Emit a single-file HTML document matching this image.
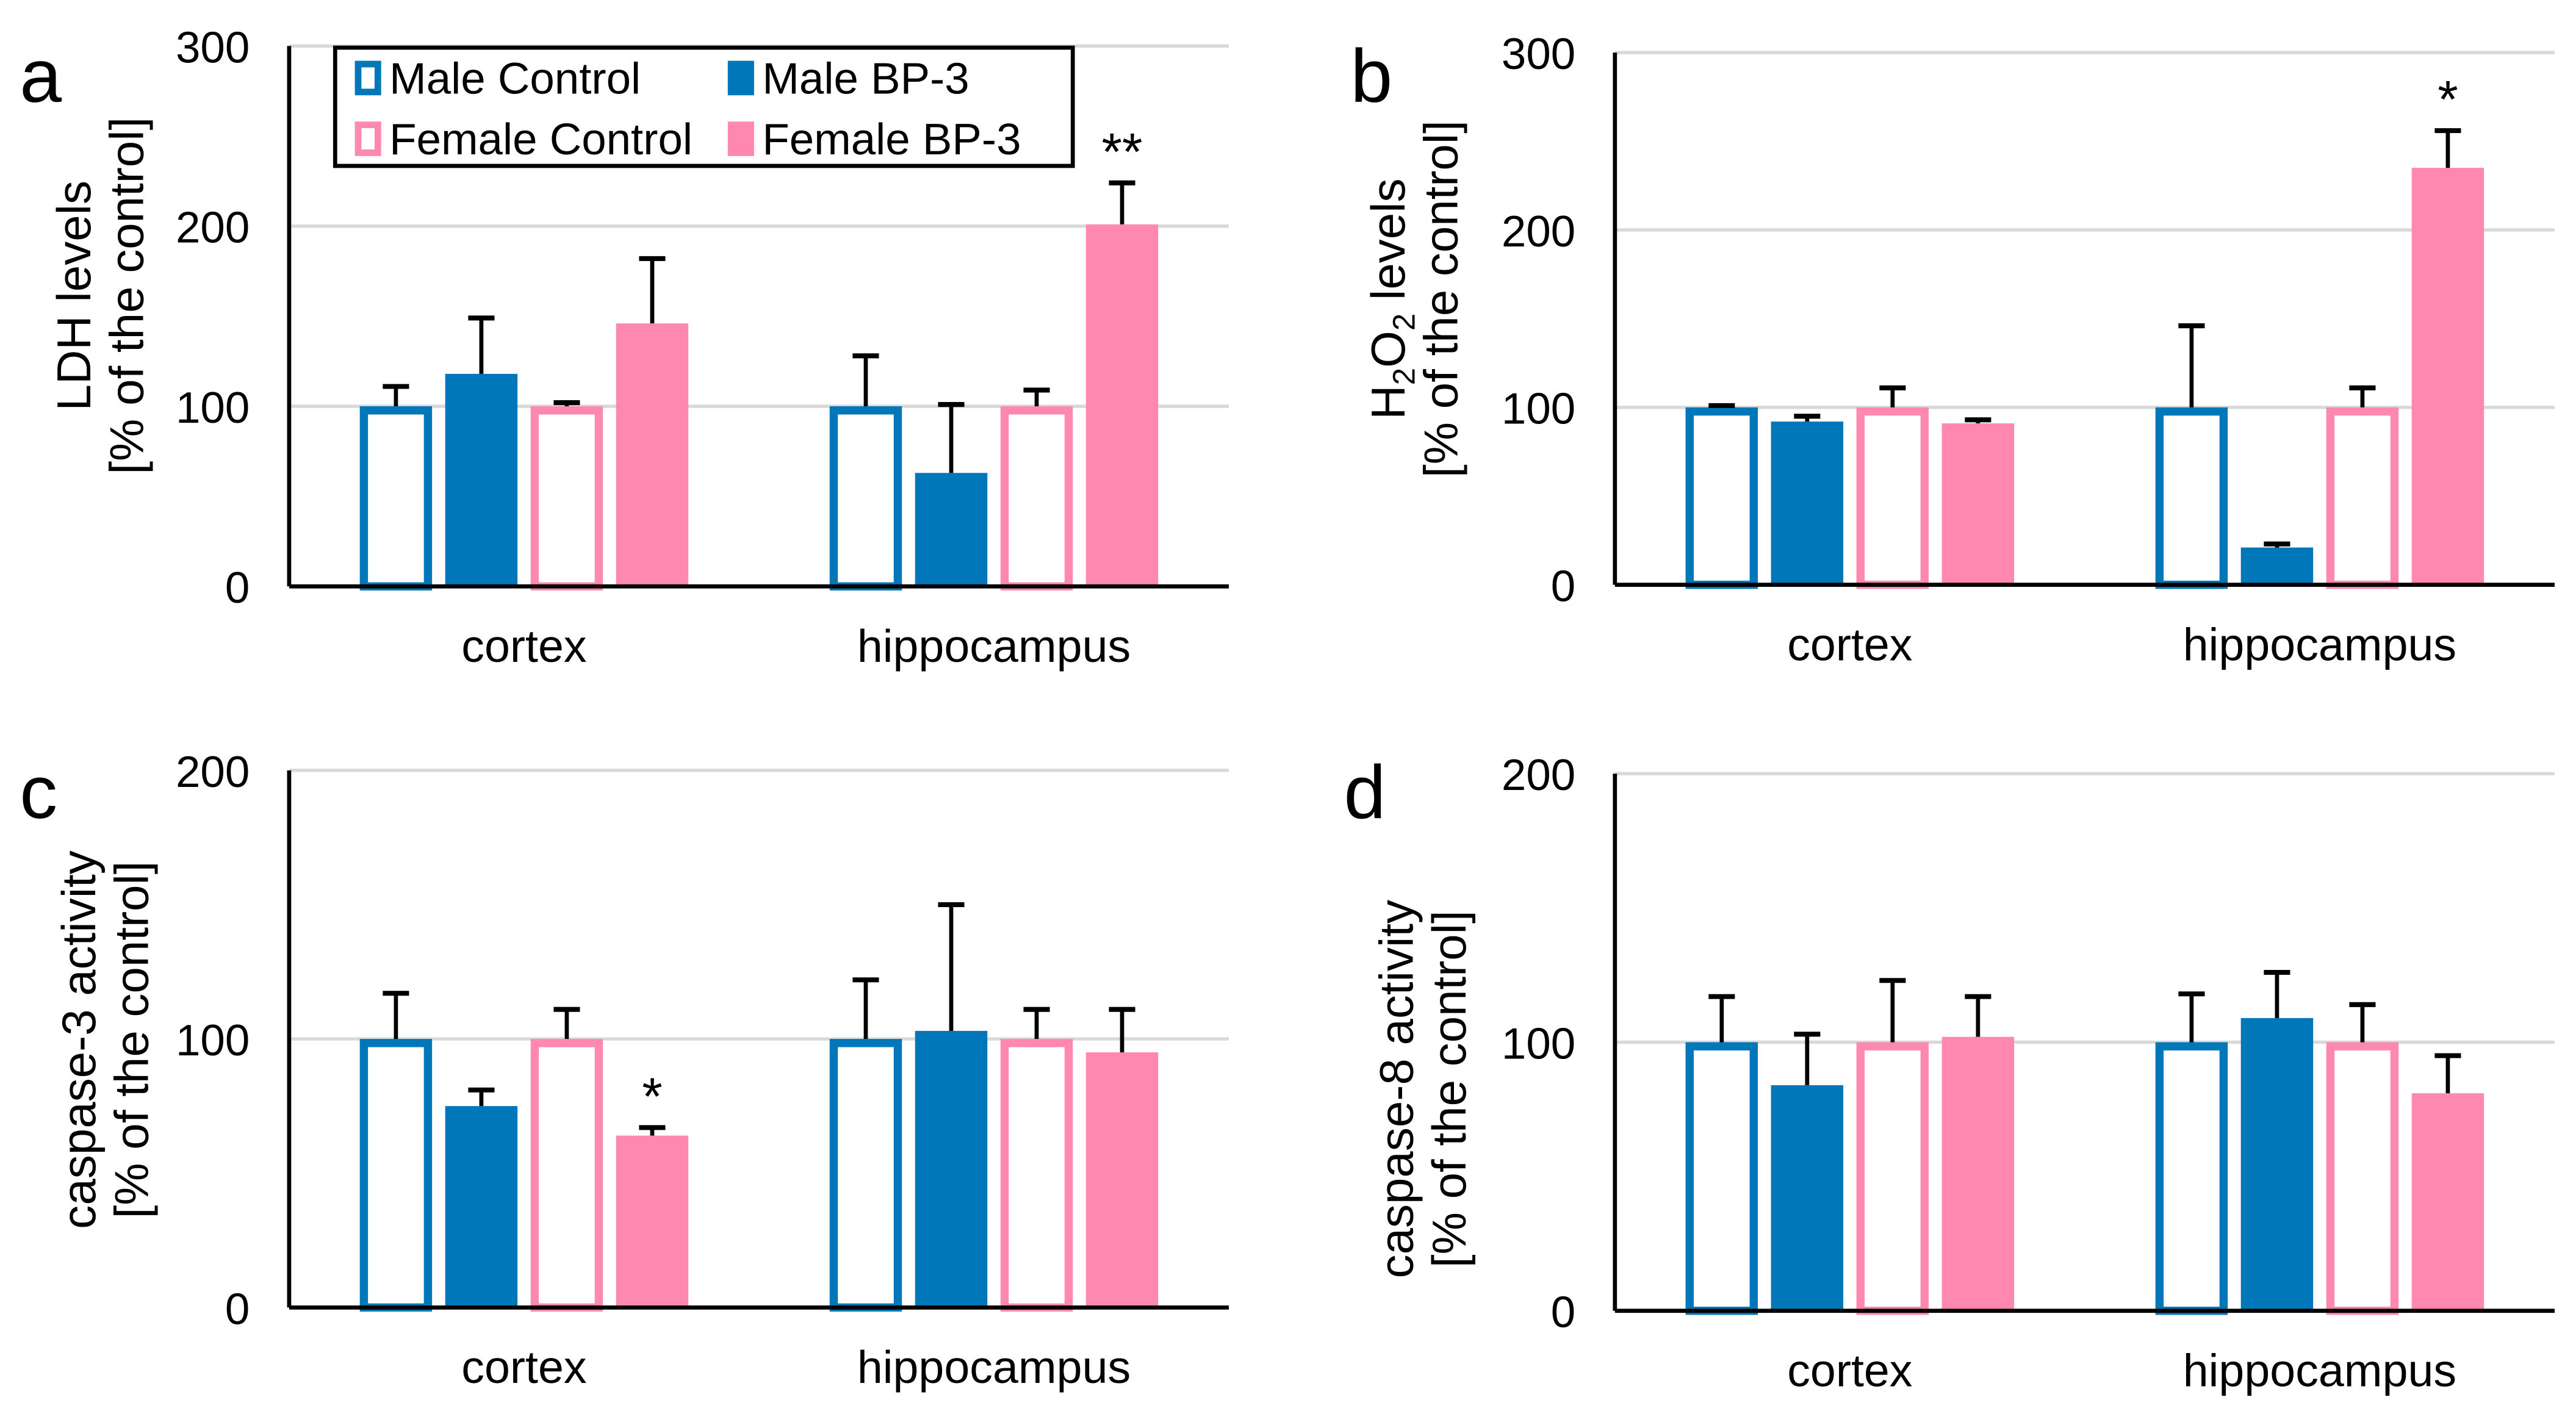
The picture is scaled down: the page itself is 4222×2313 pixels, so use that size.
<!DOCTYPE html>
<html><head><meta charset="utf-8"><style>
html,body{margin:0;padding:0;background:#fff;}
svg{display:block;font-family:"Liberation Sans",Arial,sans-serif;}
</style></head><body>
<svg id="fig" width="4222" height="2313" viewBox="0 0 1568 859" xmlns="http://www.w3.org/2000/svg"></svg>
<script>
const categories = ["cortex","hippocampus"];
const seriesNames = ["Male Control","Male BP-3","Female Control","Female BP-3"];
// panel a LDH
const aValues = [[100,118,100,146],[100,63,100,201]];
const aErrors = [[11,31,2,36],[28,38,9,23]];
const aStars = [["","","",""],["","","","**"]];
const aTicks = [0,100,200,300];
// panel b H2O2
const bValues = [[100,92,100,91],[100,21,100,235]];
const bErrors = [[1,3,11,2],[46,2,11,21]];
const bStars = [["","","",""],["","","","*"]];
const bTicks = [0,100,200,300];
// panel c caspase-3
const cValues = [[100,75,100,64],[100,103,100,95]];
const cErrors = [[17,6,11,3],[22,47,11,16]];
const cStars = [["","","","*"],["","","",""]];
const cTicks = [0,100,200];
// panel d caspase-8
const dValues = [[100,84,100,102],[100,109,100,81]];
const dErrors = [[17,19,23,15],[18,17,14,14]];
const dStars = [["","","",""],["","","",""]];
const dTicks = [0,100,200];

const NS="http://www.w3.org/2000/svg";
const svg=document.getElementById('fig');
const BLUE="#0077b9", PINK="#ff88b0";
function mk(tag,attrs,parent){const e=document.createElementNS(NS,tag);for(const k in attrs)e.setAttribute(k,attrs[k]);(parent||svg).appendChild(e);return e;}

function panel(p){
  const g=mk('g',{});
  
  
  const ymax=p.ticks[p.ticks.length-1];
  const y=v=>p.y0-(p.y0-p.ytop)*v/ymax;
  const catW=(p.x1-p.x0)/categories.length;
  const x=(ci,si)=>p.x0+catW*(ci+0.5)+(si-1.5)*52;
  p.ticks.forEach(t=>{
    if(t>0){const l=mk('line',{x1:p.x0,x2:p.x1,y1:y(t),y2:y(t),stroke:'#d9d9d9','stroke-width':2},g);
      }
    const tx=mk('text',{x:p.x0-24,y:y(t)+10,'font-size':27,'text-anchor':'end',fill:'#000'},g);
    
    tx.textContent=t;
  });
  p.values.forEach((row,ci)=>{
    row.forEach((v,si)=>{
      const cx=x(ci,si), w=44, top=y(v);
      const filled=si%2===1, col=si<2?BLUE:PINK;
      let r;
      if(filled) r=mk('rect',{x:cx-w/2,y:top,width:w,height:p.y0-top,fill:col},g);
      else r=mk('rect',{x:cx-w/2+2.5,y:top+2.5,width:w-5,height:p.y0-top-2.5,fill:'#fff',stroke:col,'stroke-width':5},g);
      
      
      const et=y(v+p.errors[ci][si]);
      const e1=mk('line',{x1:cx,x2:cx,y1:top,y2:et,stroke:'#000','stroke-width':2.5},g);
      
      const e2=mk('line',{x1:cx-8,x2:cx+8,y1:et,y2:et,stroke:'#000','stroke-width':3},g);
      
      const s=p.stars[ci][si];
      if(s){const st=mk('text',{x:cx,y:et-8,'font-size':32,'text-anchor':'middle'},g);
        
        st.textContent=s;}
    });
    const cl=mk('text',{x:p.x0+catW*(ci+0.5),y:p.y0+46,'font-size':28,'text-anchor':'middle'},g);
    
    cl.textContent=categories[ci];
  });
  const ya=mk('line',{x1:p.x0,x2:p.x0,y1:p.ytop,y2:p.y0,stroke:'#000','stroke-width':2.5},g);
  
  const xa=mk('line',{x1:p.x0,x2:p.x1,y1:p.y0,y2:p.y0,stroke:'#000','stroke-width':2.5},g);
  
  const lt=mk('text',{x:p.lx,y:p.ly,'font-size':46,'text-anchor':'start'},g);
  
  lt.textContent=p.id;
  const t1=mk('text',{x:0,y:0,'font-size':29,'text-anchor':'middle',transform:`translate(${p.tx},${p.tc}) rotate(-90)`},g);
  
  if(p.h2o2){t1.innerHTML='H<tspan font-size="19" dy="6">2</tspan><tspan dy="-6">O</tspan><tspan font-size="19" dy="6">2</tspan><tspan dy="-6"> levels</tspan>';}
  else t1.textContent=p.title;
  const t2=mk('text',{x:0,y:0,'font-size':29,'text-anchor':'middle',transform:`translate(${p.tx+32},${p.tc}) rotate(-90)`},g);
  
  t2.textContent='[% of the control]';
}
panel({id:'a',x0:176,x1:748,y0:357,ytop:28,ticks:aTicks,values:aValues,errors:aErrors,stars:aStars,lx:12,ly:62,tx:55,tc:180,title:'LDH levels'});
panel({id:'b',x0:983,x1:1555,y0:356,ytop:32,ticks:bTicks,values:bValues,errors:bErrors,stars:bStars,lx:822,ly:62,tx:855,tc:182,h2o2:true});
panel({id:'c',x0:176,x1:748,y0:796,ytop:469,ticks:cTicks,values:cValues,errors:cErrors,stars:cStars,lx:12,ly:498,tx:58,tc:633,title:'caspase-3 activity'});
panel({id:'d',x0:983,x1:1555,y0:798,ytop:471,ticks:dTicks,values:dValues,errors:dErrors,stars:dStars,lx:818,ly:498,tx:860,tc:663,title:'caspase-8 activity'});

// legend
const lg=mk('g',{});


mk('rect',{x:204,y:29,width:449,height:72,fill:'#fff',stroke:'#000','stroke-width':2.5},lg);
const pos=[[216,47],[443,47],[216,84],[443,84]];
seriesNames.forEach((n,i)=>{
  const [lx,ly]=pos[i];const col=i===0||i===1?BLUE:PINK;const filled=i%2===1;
  const m=filled?mk('rect',{x:lx,y:ly-10,width:16,height:21,fill:col},lg):mk('rect',{x:lx+2,y:ly-8,width:12,height:17,fill:'#fff',stroke:col,'stroke-width':4},lg);
  
  
  const t=mk('text',{x:lx+21,y:ly+10,'font-size':27},lg);
  
  
  t.textContent=n;
});
</script>
</body></html>
